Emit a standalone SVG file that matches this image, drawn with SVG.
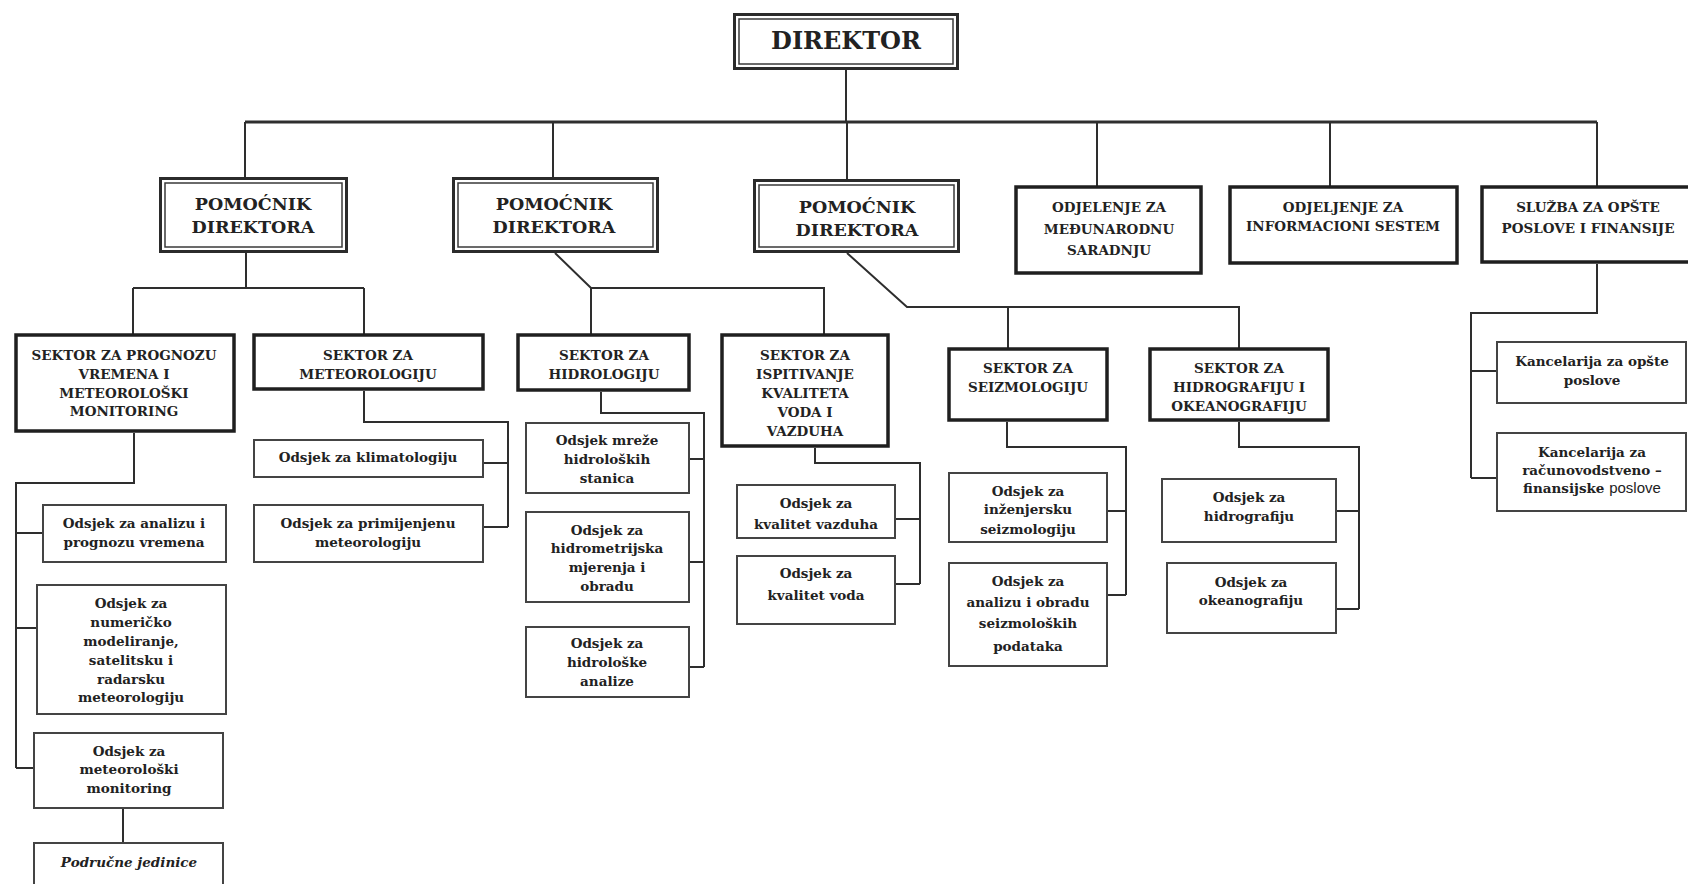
<svg xmlns="http://www.w3.org/2000/svg" width="1688" height="884" viewBox="0 0 1688 884">
<style>
.bg{fill:#ffffff}
.dbo{fill:#fff;stroke:#2b2b2b;stroke-width:3}
.dbi{fill:none;stroke:#3a3a3a;stroke-width:1.5}
.sec{fill:#fff;stroke:#1f1f1f;stroke-width:3.5}
.sub{fill:#fff;stroke:#444;stroke-width:2}
.conn{fill:none;stroke:#2e2e2e;stroke-width:2}
.bus{fill:none;stroke:#2e2e2e;stroke-width:3}
text{font-family:"DejaVu Serif","Liberation Serif",serif;font-weight:bold;fill:#222;text-anchor:middle;font-size:13.5px}
.big{font-size:24px}
.pa{font-size:17.5px}
.it{font-style:italic}
.sans{font-family:"Liberation Sans",Arial,sans-serif;font-weight:normal;font-size:15px}
</style>
<rect class="bg" x="0" y="0" width="1688" height="884"/>

<g id="connectors">
<path class="conn" d="M846 70 V122"/>
<path class="bus" d="M245 122 H1597"/>
<path class="conn" d="M245 122 V178 M553 122 V178 M847 122 V180 M1097 122 V186 M1330 122 V186 M1597 122 V186"/>
<path class="conn" d="M246 253 V288 M133 288 H364 M133 288 V335 M364 288 V335"/>
<path class="conn" d="M555 253 L591 288 H824 V335 M591 288 V335"/>
<path class="conn" d="M847 253 L907 307 H1239 V349 M1008 307 V349"/>
<path class="conn" d="M134 433 V483 H16 V768 M16 533 H43 M16 628 H37 M16 768 H34"/>
<path class="conn" d="M123 809 V843"/>
<path class="conn" d="M364 391 V422 H508 V527 M484 463 H508 M484 527 H508"/>
<path class="conn" d="M601 392 V413 H704 V667 M689 459 H704 M689 562 H704 M689 667 H704"/>
<path class="conn" d="M815 448 V463 H920 V584 M895 519 H920 M895 584 H920"/>
<path class="conn" d="M1007 422 V447 H1126 V595 M1107 511 H1126 M1107 595 H1126"/>
<path class="conn" d="M1239 422 V447 H1359 V609 M1336 511 H1359 M1336 609 H1359"/>
<path class="conn" d="M1597 264 V313 H1471 V478 M1471 371 H1497 M1471 478 H1497"/>
</g>

<g id="direktor">
<rect class="dbo" x="734.5" y="14.5" width="223" height="54"/>
<rect class="dbi" x="739" y="19" width="214" height="45"/>
<text class="big" x="846" y="49">DIREKTOR</text>
</g>

<g id="pomocnik1">
<rect class="dbo" x="160.5" y="178.5" width="186" height="73"/>
<rect class="dbi" x="165" y="183" width="177" height="64"/>
<text class="pa" x="253" y="210">POMOĆNIK</text>
<text class="pa" x="253" y="233">DIREKTORA</text>
</g>

<g id="pomocnik2">
<rect class="dbo" x="453.5" y="178.5" width="204" height="73"/>
<rect class="dbi" x="458" y="183" width="195" height="64"/>
<text class="pa" x="554" y="210">POMOĆNIK</text>
<text class="pa" x="554" y="233">DIREKTORA</text>
</g>

<g id="pomocnik3">
<rect class="dbo" x="754.5" y="180.5" width="204" height="71"/>
<rect class="dbi" x="759" y="185" width="195" height="62"/>
<text class="pa" x="857" y="213">POMOĆNIK</text>
<text class="pa" x="857" y="236">DIREKTORA</text>
</g>

<g id="odj-medjunarodna">
<rect class="sec" x="1016" y="187" width="185" height="86"/>
<text x="1109" y="212">ODJELENJE ZA</text>
<text x="1109" y="234">MEĐUNARODNU</text>
<text x="1109" y="255">SARADNJU</text>
</g>

<g id="odj-informacioni">
<rect class="sec" x="1230" y="187" width="227" height="76"/>
<text x="1343" y="212">ODJELJENJE ZA</text>
<text x="1343" y="231">INFORMACIONI SESTEM</text>
</g>

<g id="sluzba">
<rect class="sec" x="1482" y="187" width="215" height="75"/>
<text x="1588" y="212">SLUŽBA ZA OPŠTE</text>
<text x="1588" y="233">POSLOVE I FINANSIJE</text>
</g>

<g id="sektor-prognoza">
<rect class="sec" x="16" y="335" width="218" height="96"/>
<text x="124" y="360">SEKTOR ZA PROGNOZU</text>
<text x="124" y="379">VREMENA I</text>
<text x="124" y="398">METEOROLOŠKI</text>
<text x="124" y="416">MONITORING</text>
</g>

<g id="sektor-meteorologija">
<rect class="sec" x="254" y="335" width="229" height="54"/>
<text x="368" y="360">SEKTOR ZA</text>
<text x="368" y="379">METEOROLOGIJU</text>
</g>

<g id="sektor-hidrologija">
<rect class="sec" x="518" y="335" width="171" height="55"/>
<text x="604" y="360">SEKTOR ZA</text>
<text x="604" y="379">HIDROLOGIJU</text>
</g>

<g id="sektor-ispitivanje">
<rect class="sec" x="722" y="335" width="166" height="111"/>
<text x="805" y="360">SEKTOR ZA</text>
<text x="805" y="379">ISPITIVANJE</text>
<text x="805" y="398">KVALITETA</text>
<text x="805" y="417">VODA I</text>
<text x="805" y="436">VAZDUHA</text>
</g>

<g id="sektor-seizmologija">
<rect class="sec" x="949" y="349" width="158" height="71"/>
<text x="1028" y="373">SEKTOR ZA</text>
<text x="1028" y="392">SEIZMOLOGIJU</text>
</g>

<g id="sektor-hidrografija">
<rect class="sec" x="1150" y="349" width="178" height="71"/>
<text x="1239" y="373">SEKTOR ZA</text>
<text x="1239" y="392">HIDROGRAFIJU I</text>
<text x="1239" y="411">OKEANOGRAFIJU</text>
</g>

<g id="odsjek-analiza-prognoza">
<rect class="sub" x="43" y="505" width="183" height="57"/>
<text x="134" y="528">Odsjek za analizu i</text>
<text x="134" y="547">prognozu vremena</text>
</g>

<g id="odsjek-numericko">
<rect class="sub" x="37" y="585" width="189" height="129"/>
<text x="131" y="608">Odsjek  za</text>
<text x="131" y="627">numeričko</text>
<text x="131" y="646">modeliranje,</text>
<text x="131" y="665">satelitsku i</text>
<text x="131" y="684">radarsku</text>
<text x="131" y="702">meteorologiju</text>
</g>

<g id="odsjek-monitoring">
<rect class="sub" x="34" y="733" width="189" height="75"/>
<text x="129" y="756">Odsjek za</text>
<text x="129" y="774">meteorološki</text>
<text x="129" y="793">monitoring</text>
</g>

<g id="podrucne-jedinice">
<rect class="sub" x="34" y="843" width="189" height="50"/>
<text class="it" x="129" y="867">Područne jedinice</text>
</g>

<g id="odsjek-klimatologija">
<rect class="sub" x="254" y="440" width="229" height="37"/>
<text x="368" y="462">Odsjek za klimatologiju</text>
</g>

<g id="odsjek-primijenjena">
<rect class="sub" x="254" y="505" width="229" height="57"/>
<text x="368" y="528">Odsjek za primijenjenu</text>
<text x="368" y="547">meteorologiju</text>
</g>

<g id="odsjek-mreze">
<rect class="sub" x="526" y="423" width="163" height="70"/>
<text x="607" y="445">Odsjek mreže</text>
<text x="607" y="464">hidroloških</text>
<text x="607" y="483">stanica</text>
</g>

<g id="odsjek-hidrometrija">
<rect class="sub" x="526" y="512" width="163" height="90"/>
<text x="607" y="535">Odsjek za</text>
<text x="607" y="553">hidrometrijska</text>
<text x="607" y="572">mjerenja i</text>
<text x="607" y="591">obradu</text>
</g>

<g id="odsjek-hidroloske-analize">
<rect class="sub" x="526" y="627" width="163" height="70"/>
<text x="607" y="648">Odsjek za</text>
<text x="607" y="667">hidrološke</text>
<text x="607" y="686">analize</text>
</g>

<g id="odsjek-vazduh">
<rect class="sub" x="737" y="485" width="158" height="53"/>
<text x="816" y="508">Odsjek za</text>
<text x="816" y="529">kvalitet vazduha</text>
</g>

<g id="odsjek-voda">
<rect class="sub" x="737" y="556" width="158" height="68"/>
<text x="816" y="578">Odsjek za</text>
<text x="816" y="600">kvalitet voda</text>
</g>

<g id="odsjek-inzenjerska">
<rect class="sub" x="949" y="473" width="158" height="69"/>
<text x="1028" y="496">Odsjek za</text>
<text x="1028" y="514">inženjersku</text>
<text x="1028" y="534">seizmologiju</text>
</g>

<g id="odsjek-seizmoloski-podaci">
<rect class="sub" x="949" y="563" width="158" height="103"/>
<text x="1028" y="586">Odsjek za</text>
<text x="1028" y="607">analizu i obradu</text>
<text x="1028" y="628">seizmoloških</text>
<text x="1028" y="651">podataka</text>
</g>

<g id="odsjek-hidrografija">
<rect class="sub" x="1162" y="479" width="174" height="63"/>
<text x="1249" y="502">Odsjek za</text>
<text x="1249" y="521">hidrografiju</text>
</g>

<g id="odsjek-okeanografija">
<rect class="sub" x="1167" y="563" width="169" height="70"/>
<text x="1251" y="587">Odsjek za</text>
<text x="1251" y="605">okeanografiju</text>
</g>

<g id="kancelarija-opste">
<rect class="sub" x="1497" y="342" width="189" height="61"/>
<text x="1592" y="366">Kancelarija za opšte</text>
<text x="1592" y="385">poslove</text>
</g>

<g id="kancelarija-racunovodstvo">
<rect class="sub" x="1497" y="433" width="189" height="78"/>
<text x="1592" y="457">Kancelarija za</text>
<text x="1592" y="475">računovodstveno –</text>
<text x="1592" y="493">finansijske  <tspan class="sans">poslove</tspan></text>
</g>
</svg>
